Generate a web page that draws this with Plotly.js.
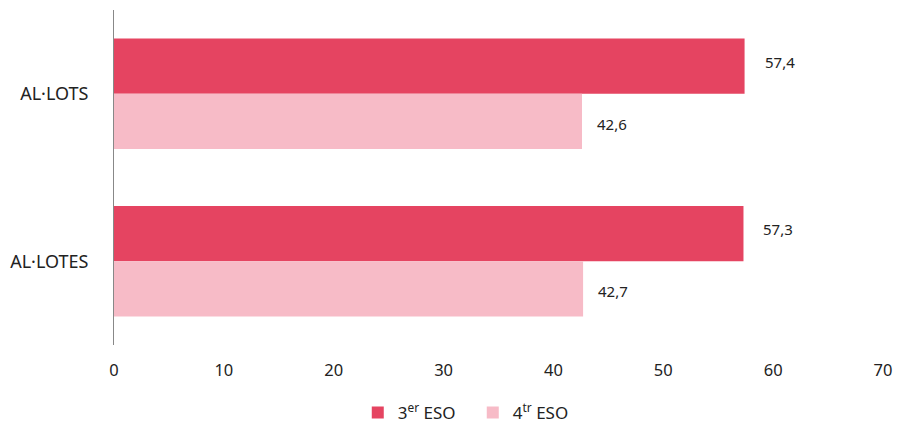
<!DOCTYPE html>
<html>
<head>
<meta charset="utf-8">
<script src="https://cdn.plot.ly/plotly-3.0.1.min.js"></script>
<style>html,body{margin:0;padding:0;background:#fff;}#chart{width:898px;height:424px;}</style>
</head>
<body>
<div id="chart"></div>
<script>
const categories = ['AL·LOTS', 'AL·LOTES'];
const seriesNames = ['3<sup>er</sup> ESO', '4<sup>tr</sup> ESO'];
const values3 = [57.4, 57.3];
const values4 = [42.6, 42.7];
const xTicks = [0, 10, 20, 30, 40, 50, 60, 70];

const red = '#E54461';
const pink = '#F7BBC7';
const font = '"Noto Sans", "Open Sans", sans-serif';

const traces = [
  {type: 'bar', orientation: 'h', name: seriesNames[0], y: categories, x: values3,
   marker: {color: red}, hoverinfo: 'none'},
  {type: 'bar', orientation: 'h', name: seriesNames[1], y: categories, x: values4,
   marker: {color: pink}, hoverinfo: 'none'}
];

const fmt = v => v.toFixed(1).replace('.', ',');
const annotations = [];
categories.forEach((c, i) => {
  annotations.push({x: values3[i], y: c, xref: 'x', yref: 'y', text: fmt(values3[i]),
    showarrow: false, xanchor: 'left', xshift: 18, yshift: 32,
    font: {family: font, size: 15, color: '#222'}});
  annotations.push({x: values4[i], y: c, xref: 'x', yref: 'y', text: fmt(values4[i]),
    showarrow: false, xanchor: 'left', xshift: 13, yshift: -30,
    font: {family: font, size: 15, color: '#222'}});
});

const layout = {
  width: 898, height: 424,
  margin: {l: 114, r: 15, t: 10, b: 79},
  paper_bgcolor: '#fff', plot_bgcolor: '#fff',
  separators: ',.',
  barmode: 'group', bargap: 0.34, bargroupgap: 0,
  font: {family: font, size: 14, color: '#222'},
  xaxis: {range: [0, 70], tickvals: xTicks, showgrid: false, zeroline: false, automargin: false,
    showline: false, ticks: '', tickfont: {size: 16.5, color: '#222'}, ticklabelstandoff: 13},
  yaxis: {type: 'category', autorange: 'reversed', showgrid: false, zeroline: false, automargin: false,
    showline: true, linecolor: '#888', linewidth: 1, ticks: '',
    tickfont: {size: 18, color: '#222'}, ticklabelstandoff: 21},
  showlegend: true,
  legend: {orientation: 'h', x: 0.317, xanchor: 'left', yref: 'container', y: 0.026, yanchor: 'middle',
    font: {size: 17, color: '#222'}, itemwidth: 30, entrywidth: 70, traceorder: 'normal'},
  annotations: annotations
};

Plotly.newPlot('chart', traces, layout, {staticPlot: true});
</script>
</body>
</html>
